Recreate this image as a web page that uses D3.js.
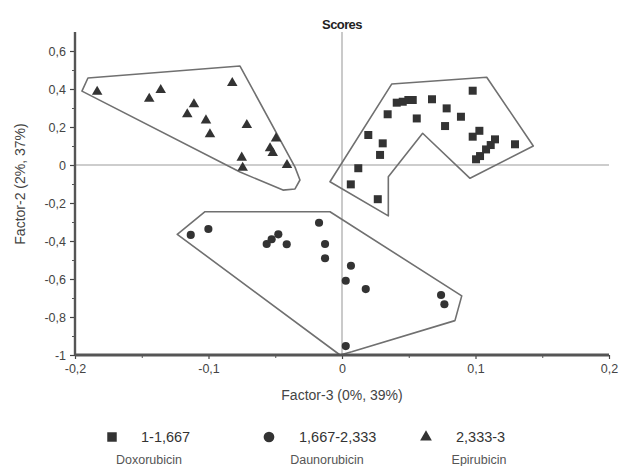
<!DOCTYPE html>
<html><head><meta charset="utf-8">
<script src="https://cdn.jsdelivr.net/npm/d3@7"></script>
<style>body{margin:0;background:#fff}svg{display:block}text{font-family:"Liberation Sans",Arial,sans-serif}</style>
</head><body><svg id="c" width="620" height="466"></svg>
<script>
// Doxorubicin (squares)
const doxX = [0.0979,0.0410,0.0455,0.0497,0.0530,0.0674,0.0784,0.0342,0.0560,0.0891,0.0772,0.1029,0.0979,0.0197,0.0305,0.0285,0.1146,0.1114,0.1079,0.1296,0.1004,0.0122,0.0066,0.0268,0.1034];
const doxY = [0.391,0.328,0.333,0.342,0.342,0.346,0.298,0.267,0.245,0.254,0.205,0.180,0.149,0.158,0.114,0.053,0.135,0.105,0.082,0.109,0.030,-0.017,-0.102,-0.180,0.047];
// Daunorubicin (circles)
const dauX = [-0.1133,-0.1001,-0.0564,-0.0527,-0.0477,-0.0414,-0.0172,-0.0127,-0.0127,0.0067,0.0028,0.0178,0.0742,0.0767,0.0028];
const dauY = [-0.368,-0.337,-0.416,-0.391,-0.365,-0.417,-0.304,-0.416,-0.491,-0.530,-0.609,-0.653,-0.684,-0.733,-0.953];
// Epirubicin (triangles)
const epiX = [-0.1834,-0.1444,-0.1358,-0.0822,-0.1109,-0.1159,-0.1019,-0.0989,-0.0713,-0.0494,-0.0539,-0.0519,-0.0751,-0.0744,-0.0412];
const epiY = [0.391,0.354,0.400,0.437,0.325,0.272,0.240,0.167,0.216,0.145,0.093,0.068,0.044,-0.009,0.005];
// group outlines
const doxHullX = [0.0372,0.1084,0.1433,0.0959,0.0604,0.0347,0.0347,-0.0090];
const doxHullY = [0.426,0.462,0.100,-0.070,0.167,-0.062,-0.268,-0.088];
const dauHullX = [-0.1234,-0.1026,-0.0090,0.0897,0.0846,0.0073,-0.0015];
const dauHullY = [-0.365,-0.246,-0.246,-0.689,-0.819,-0.983,-1.000];
const epiHullX = [-0.1948,-0.1903,-0.0764,-0.0352,-0.0315,-0.0352,-0.0442,-0.0764];
const epiHullY = [0.389,0.458,0.521,-0.011,-0.079,-0.126,-0.132,-0.037];
// ticks
const xTicks = [-0.2,-0.1,0,0.1,0.2];
const xTickLabels = ["-0,2","-0,1","0","0,1","0,2"];
const xMinor = [-0.15,-0.05,0.05,0.15];
const yTicks = [0.6,0.4,0.2,0,-0.2,-0.4,-0.6,-0.8,-1];
const yTickLabels = ["0,6","0,4","0,2","0","-0,2","-0,4","-0,6","-0,8","-1"];
const yMinor = [0.5,0.3,0.1,-0.1,-0.3,-0.5,-0.7,-0.9];
const legendRanges = ["1-1,667","1,667-2,333","2,333-3"];
const legendNames = ["Doxorubicin","Daunorubicin","Epirubicin"];

const svg = d3.select("#c");
const x = d3.scaleLinear().domain([-0.2,0.2]).range([75,609]);
const y = d3.scaleLinear().domain([-1,0.7]).range([355,32]);
const dark = "#333";

// zero lines
svg.append("line").attr("x1",x(0)).attr("x2",x(0)).attr("y1",y(0.7)).attr("y2",y(-1)).attr("stroke","#bdbdbd").attr("stroke-width",1.6);
svg.append("line").attr("x1",x(-0.2)).attr("x2",x(0.2)).attr("y1",y(0)).attr("y2",y(0)).attr("stroke","#bdbdbd").attr("stroke-width",1.6);

// hulls
const line = d3.line().x(d=>x(d[0])).y(d=>y(d[1])).curve(d3.curveLinearClosed);
[[doxHullX,doxHullY],[dauHullX,dauHullY],[epiHullX,epiHullY]].forEach(([hx,hy])=>{
  svg.append("path").attr("d",line(hx.map((v,i)=>[v,hy[i]]))).attr("fill","none").attr("stroke","#707070").attr("stroke-width",1.6).attr("stroke-linejoin","round");
});

// axes
const yAxis = d3.axisLeft(y).tickValues(yTicks).tickFormat((d,i)=>yTickLabels[i]).tickSize(5).tickPadding(4);
const gy = svg.append("g").attr("transform",`translate(${x(-0.2)},0)`).call(yAxis);
gy.select(".domain").remove();
gy.selectAll(".tick line").attr("stroke","#444").attr("stroke-width",1.2);
gy.selectAll("text").attr("font-size",12.5).attr("fill","#444");
const gym = svg.append("g").attr("transform",`translate(${x(-0.2)},0)`).call(d3.axisLeft(y).tickValues(yMinor).tickFormat("").tickSize(3));
gym.select(".domain").remove(); gym.selectAll(".tick line").attr("stroke","#555");

const xAxis = d3.axisBottom(x).tickValues(xTicks).tickFormat((d,i)=>xTickLabels[i]).tickSize(4).tickPadding(5);
const gx = svg.append("g").attr("transform",`translate(0,${y(-1)})`).call(xAxis);
gx.select(".domain").remove();
gx.selectAll(".tick line").attr("stroke","#444").attr("stroke-width",1.2);
gx.selectAll("text").attr("font-size",12.5).attr("fill","#444");
const gxm = svg.append("g").attr("transform",`translate(0,${y(-1)})`).call(d3.axisBottom(x).tickValues(xMinor).tickFormat("").tickSize(3));
gxm.select(".domain").remove(); gxm.selectAll(".tick line").attr("stroke","#555");

svg.append("line").attr("x1",x(-0.2)).attr("x2",x(-0.2)).attr("y1",y(0.7)).attr("y2",y(-1)).attr("stroke","#555").attr("stroke-width",2.4);
svg.append("line").attr("x1",x(-0.2)).attr("x2",x(0.2)).attr("y1",y(-1)).attr("y2",y(-1)).attr("stroke","#555").attr("stroke-width",2.8);

// points
const sq = d3.symbol().type(d3.symbolSquare).size(64);
const ci = d3.symbol().type(d3.symbolCircle).size(52);
const tr = d3.symbol().type(d3.symbolTriangle).size(48);
svg.append("g").selectAll("path").data(doxX.map((v,i)=>[v,doxY[i]])).join("path")
  .attr("d",sq).attr("transform",d=>`translate(${x(d[0])},${y(d[1])})`).attr("fill",dark);
svg.append("g").selectAll("path").data(dauX.map((v,i)=>[v,dauY[i]])).join("path")
  .attr("d",ci).attr("transform",d=>`translate(${x(d[0])},${y(d[1])})`).attr("fill",dark);
svg.append("g").selectAll("path").data(epiX.map((v,i)=>[v,epiY[i]])).join("path")
  .attr("d",tr).attr("transform",d=>`translate(${x(d[0])},${y(d[1])+1})`).attr("fill",dark);

// titles
svg.append("text").attr("x",x(0)).attr("y",29).attr("text-anchor","middle").attr("font-size",13).attr("font-weight","bold").attr("letter-spacing",-0.6).attr("fill","#222").text("Scores");
svg.append("text").attr("x",x(0)).attr("y",400).attr("text-anchor","middle").attr("font-size",14).attr("fill","#444").text("Factor-3 (0%, 39%)");
svg.append("text").attr("transform",`translate(25,184) rotate(-90)`).attr("text-anchor","middle").attr("font-size",14).attr("fill","#444").text("Factor-2 (2%, 37%)");

// legend
const legSym = [d3.symbol().type(d3.symbolSquare).size(90), d3.symbol().type(d3.symbolCircle).size(90), d3.symbol().type(d3.symbolTriangle).size(60)];
const legX = [112,269,426];
const legTextX = [141,299,456];
const legNameX = [149,327,479];
legendRanges.forEach((t,i)=>{
  svg.append("path").attr("d",legSym[i]).attr("transform",`translate(${legX[i]},437)`).attr("fill",dark);
  svg.append("text").attr("x",legTextX[i]).attr("y",442).attr("font-size",14.5).attr("fill","#333").text(t);
  svg.append("text").attr("x",legNameX[i]).attr("y",464).attr("text-anchor","middle").attr("font-size",12.5).attr("fill","#555").text(legendNames[i]);
});
</script></body></html>
